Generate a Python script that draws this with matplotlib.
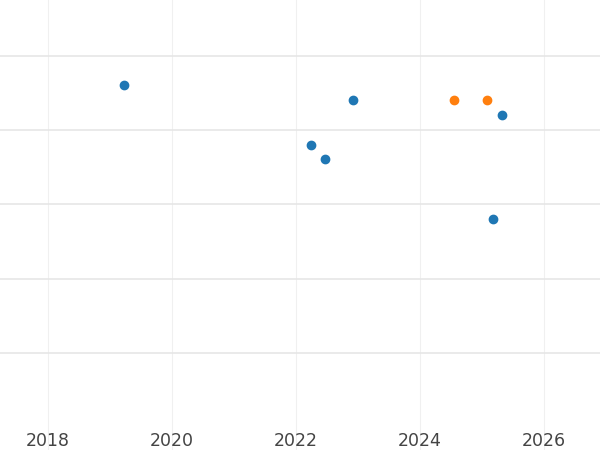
import matplotlib.pyplot as plt

# data
years_blue = [2019.23, 2022.24, 2022.47, 2022.92, 2025.32, 2025.18]
vals_blue = [4.61, 3.80, 3.61, 4.41, 4.20, 2.80]
years_orange = [2024.55, 2025.08]
vals_orange = [4.41, 4.41]

fig = plt.figure(figsize=(6, 4.5), dpi=100)
ax = fig.add_axes([0, 0, 1, 1])
ax.scatter(years_blue, vals_blue, color='#1f77b4', s=36, zorder=3)
ax.scatter(years_orange, vals_orange, color='#ff7f0e', s=36, zorder=3)

ax.set_xlim(2017.23, 2026.9)
ax.set_ylim(-0.31, 5.757)
ax.set_xticks([2018, 2020, 2022, 2024, 2026])
ax.set_yticks([1, 2, 3, 4, 5])
ax.tick_params(axis='y', left=False, labelleft=False)
ax.tick_params(axis='x', length=0, labelsize=12.5, labelcolor='#444444', pad=-13)
ax.grid(axis='y', color='#e6e6e6', linewidth=1.2)
ax.grid(axis='x', color='#f0f0f0', linewidth=0.8)
ax.set_axisbelow(True)
for s in ax.spines.values():
    s.set_visible(False)

fig.savefig('out.png', dpi=100)
